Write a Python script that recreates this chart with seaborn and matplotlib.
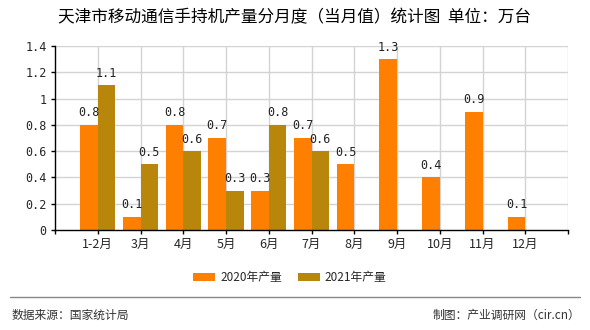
import matplotlib
matplotlib.use("Agg")
import matplotlib.pyplot as plt
import seaborn as sns
import pandas as pd
import numpy as np
from matplotlib.lines import Line2D
from matplotlib.patches import Patch

categories = ["1-2月", "3月", "4月", "5月", "6月", "7月", "8月", "9月", "10月", "11月", "12月"]
values_2020 = [0.8, 0.1, 0.8, 0.7, 0.3, 0.7, 0.5, 1.3, 0.4, 0.9, 0.1]
values_2021 = [1.1, 0.5, 0.6, 0.3, 0.8, 0.6, None, None, None, None, None]
series_names = ["2020年产量", "2021年产量"]
colors = ["#FF8000", "#B8860B"]
yticks = [0, 0.2, 0.4, 0.6, 0.8, 1.0, 1.2, 1.4]
ytick_labels = ["0", "0.2", "0.4", "0.6", "0.8", "1", "1.2", "1.4"]
title = "天津市移动通信手持机产量分月度（当月值）统计图  单位：万台"
source_text = "数据来源：国家统计局"
credit_text = "制图：产业调研网（cir.cn）"

sns.set_theme(style="white")
plt.rcParams['font.family'] = ['Noto Sans CJK SC', 'DejaVu Sans']

rows = []
for c, a, b in zip(categories, values_2020, values_2021):
    rows.append({"月份": c, "系列": series_names[0], "值": a})
    rows.append({"月份": c, "系列": series_names[1], "值": np.nan if b is None else b})
df = pd.DataFrame(rows)

fig = plt.figure(figsize=(5.9, 3.3), dpi=100)
ax = fig.add_axes([55/590, 1-230/330, (568-55)/590, (230-46)/330])

sns.barplot(data=df, x="月份", y="值", hue="系列", order=categories,
            hue_order=series_names, palette=colors, width=0.82,
            saturation=1, ax=ax, legend=False, zorder=3, linewidth=0, edgecolor='none')

ax.set_xlim(-1, 11)
ax.set_ylim(0, 1.4)
ax.set_yticks(yticks)
ax.set_yticklabels(ytick_labels, family='DejaVu Sans Mono', fontsize=8.5)
ax.set_xticks(range(-1, 12))
ax.set_xticklabels([""] + categories + [""], fontsize=9)
ax.set_xlabel("")
ax.set_ylabel("")
ax.tick_params(axis='both', length=3, width=1, color='black', direction='out', pad=3)
ax.tick_params(axis='both', bottom=True, left=True)

for y in yticks[1:]:
    ax.axhline(y, color='#D3D3D3', lw=1, zorder=1)
for x in range(0, 12):
    ax.axvline(x, color='#D3D3D3', lw=1, zorder=1)

for s in ['top', 'right']:
    ax.spines[s].set_visible(False)
for s in ['left', 'bottom']:
    ax.spines[s].set_color('black')
    ax.spines[s].set_linewidth(1)
    ax.spines[s].set_zorder(5)

for cont in ax.containers:
    for bar in cont:
        if bar is None:
            continue
        h = bar.get_height()
        if h is None or np.isnan(h):
            continue
        xc = bar.get_x() + bar.get_width() / 2
        ax.annotate(f"{h:g}", (xc, h), xytext=(0, 4), textcoords='offset points',
                    ha='center', va='bottom', fontsize=8.5, family='DejaVu Sans Mono',
                    color='#222222', zorder=6)

fig.text(0.5, 1-18/330, title, ha='center', va='center', fontsize=12, color='black')

handles = [Patch(facecolor=c, edgecolor='none') for c in colors]
fig.legend(handles, series_names, loc='center', bbox_to_anchor=(290/590, 1-278/330), ncol=2,
           frameon=False, fontsize=8.5, handlelength=1.86, handleheight=0.68,
           columnspacing=1.35, handletextpad=0.42)

fig.add_artist(Line2D([10/590, 580/590], [1-297/330, 1-297/330], color='#888888', lw=1))
fig.text(12/590, 1-315/330, source_text, ha='left', va='center', fontsize=8.5, color='#333333')
fig.text(580/590, 1-315/330, credit_text, ha='right', va='center', fontsize=8.5, color='#333333')

fig.savefig("out.png", dpi=100)
